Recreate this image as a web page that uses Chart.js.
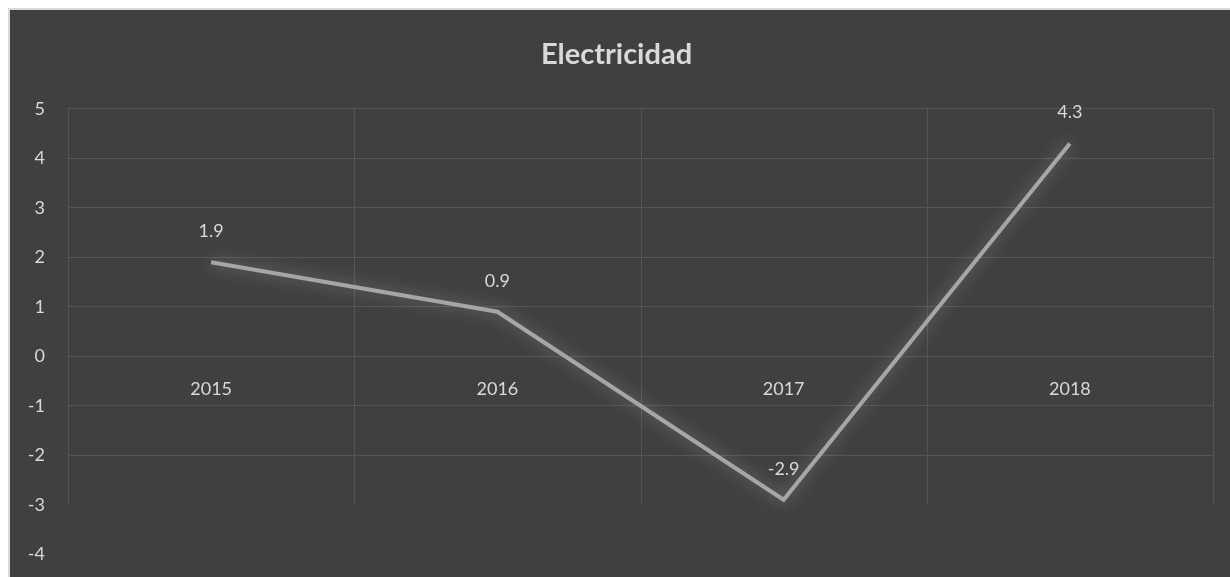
<!DOCTYPE html>
<html>
<head>
<meta charset="utf-8">
<script src="https://cdn.jsdelivr.net/npm/chart.js@4"></script>
<style>
    html, body { margin: 0; padding: 0; background: #ffffff; }
    #frame {
        position: absolute; left: 8px; top: 8px;
        width: 1222px; height: 569px;
        border-left: 2px solid #d9d9d9; border-top: 2px solid #d9d9d9;
        background: #404040;
        overflow: hidden;
    }
    #box { position: absolute; left: 0; top: 0; width: 1220px; height: 578px; }
</style>
</head>
<body>
<div id="frame"><div id="box"><canvas id="electricChart"></canvas></div></div>
<script>
const years = ["2015", "2016", "2017", "2018"];
const electricidad = [1.9, 0.9, -2.9, 4.3];
const yTicks = [5, 4, 3, 2, 1, 0, -1, -2, -3, -4];

const textColor = "#d9d9d9";
const gridColor = "#555555";

// brillo alrededor de la linea
const glow = {
    id: "glow",
    beforeDatasetsDraw(chart) {
        const ctx = chart.ctx;
        ctx.save();
        ctx.shadowColor = "rgba(255, 255, 255, 0.35)";
        ctx.shadowBlur = 16;
    },
    afterDatasetsDraw(chart) {
        chart.ctx.restore();
    },
};

// lineas verticales entre categorias, de 5 a -3
const catLines = {
    id: "catLines",
    beforeDatasetsDraw(chart) {
        const ctx = chart.ctx;
        const x = chart.scales.x;
        const y = chart.scales.y;
        const top = y.getPixelForValue(5);
        const bottom = y.getPixelForValue(-3);
        ctx.save();
        ctx.strokeStyle = gridColor;
        ctx.lineWidth = 1;
        for (let i = 0; i <= years.length; i++) {
            const px = Math.round(x.getPixelForValue(i - 0.5)) + 0.5;
            ctx.beginPath();
            ctx.moveTo(px, top);
            ctx.lineTo(px, bottom);
            ctx.stroke();
        }
        ctx.restore();
    },
};

// etiquetas de valores
const valueLabels = {
    id: "valueLabels",
    afterDatasetsDraw(chart) {
        const ctx = chart.ctx;
        const meta = chart.getDatasetMeta(0);
        ctx.save();
        ctx.fillStyle = textColor;
        ctx.font = "18px Lato";
        ctx.textAlign = "center";
        ctx.textBaseline = "middle";
        meta.data.forEach((pt, i) => {
            ctx.fillText(String(electricidad[i]), pt.x, pt.y - 31);
        });
        ctx.restore();
    },
};

new Chart(document.getElementById("electricChart"), {
    type: "line",
    data: {
        labels: years,
        datasets: [
            {
                label: "Electricidad",
                data: electricidad,
                borderColor: "#a6a6a6",
                borderWidth: 4,
                pointRadius: 0,
                tension: 0,
            },
        ],
    },
    options: {
        responsive: true,
        maintainAspectRatio: false,
        animation: false,
        layout: { padding: { left: 10, right: 17, top: 0, bottom: 12 } },
        scales: {
            x: {
                position: { y: 0 },
                offset: true,
                afterFit: (s) => { s.height = 0; },
                grid: { display: false, drawTicks: false },
                border: { display: false },
                ticks: {
                    color: textColor,
                    font: { family: "Lato", size: 18 },
                    padding: 22,
                },
            },
            y: {
                min: -4,
                max: 5,
                afterFit: (s) => { s.width = 48; },
                afterBuildTicks: (s) => { s.ticks = yTicks.map((v) => ({ value: v })); },
                grid: {
                    drawTicks: false,
                    color: (c) => (c.tick && c.tick.value < -2 ? "rgba(0,0,0,0)" : gridColor),
                },
                border: { display: false },
                ticks: {
                    color: textColor,
                    font: { family: "Lato", size: 18 },
                    padding: 23,
                },
            },
        },
        plugins: {
            legend: { display: false },
            tooltip: { enabled: false },
            title: {
                display: true,
                text: "Electricidad",
                color: textColor,
                font: { family: "Lato", size: 29, weight: "bold" },
                padding: { top: 27, bottom: 37 },
            },
        },
    },
    plugins: [catLines, glow, valueLabels],
});
</script>
</body>
</html>
